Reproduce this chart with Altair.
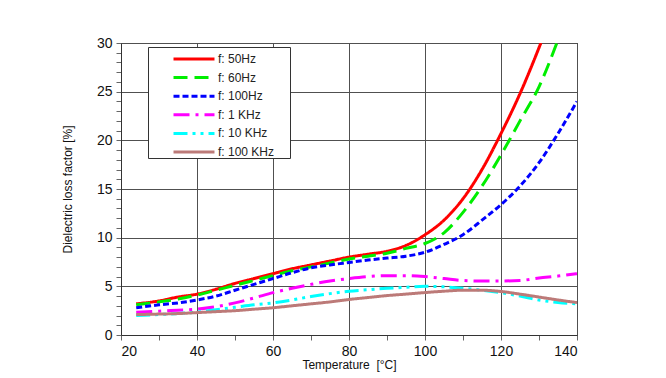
import altair as alt
import pandas as pd

series_names = ["f: 50Hz", "f: 60Hz", "f: 100Hz", "f: 1 KHz", "f: 10 KHz", "f: 100 KHz"]
colors = ["#FF0000", "#00EE00", "#0000FF", "#FF00FF", "#00FFFF", "#BC7A78"]
dashes = [[1, 0], [14, 7], [6, 3], [16, 6, 3, 6], [14, 5, 3, 5, 3, 5], [1, 0]]

temps_common = [24, 30, 35, 40, 45, 50, 55, 60, 65, 70, 75, 80, 85, 90, 95, 100,
                105, 110, 115, 120, 125, 130, 135, 140]

temps_50 = [24, 30, 35, 40, 45, 50, 55, 60, 65, 70, 75, 80, 85, 90, 95, 100,
            105, 110, 115, 120, 125, 130.5]
vals_50 = [3.2, 3.5, 3.9, 4.2, 4.7, 5.3, 5.8, 6.3, 6.8, 7.2, 7.6, 8.0, 8.3, 8.6, 9.2, 10.3,
           11.8, 14.0, 17.0, 20.7, 24.8, 30.0]

temps_60 = [24, 30, 35, 40, 45, 50, 55, 60, 65, 70, 75, 80, 85, 90, 95, 100,
            105, 110, 115, 120, 125, 130, 134.7]
vals_60 = [3.1, 3.4, 3.7, 4.1, 4.6, 5.1, 5.6, 6.1, 6.6, 7.0, 7.4, 7.8, 8.1, 8.4, 8.9, 9.4,
           10.5, 12.6, 15.3, 18.5, 22.0, 25.5, 30.0]

vals_100 = [2.8, 3.1, 3.3, 3.6, 4.0, 4.6, 5.2, 5.8, 6.4, 6.9, 7.2, 7.45, 7.7, 7.9, 8.1, 8.5,
            9.3, 10.3, 11.8, 13.4, 15.3, 17.7, 20.7, 24.0]
vals_1k = [2.35, 2.45, 2.55, 2.65, 2.9, 3.3, 3.8, 4.35, 4.8, 5.2, 5.55, 5.8, 6.0, 6.1, 6.1, 6.0,
           5.8, 5.6, 5.55, 5.55, 5.6, 5.85, 6.05, 6.3]
vals_10k = [2.0, 2.1, 2.2, 2.35, 2.6, 2.85, 3.1, 3.3, 3.6, 3.95, 4.25, 4.5, 4.65, 4.8, 4.9, 5.0,
            4.95, 4.8, 4.6, 4.35, 4.0, 3.6, 3.35, 3.2]
vals_100k = [2.1, 2.15, 2.2, 2.3, 2.4, 2.5, 2.65, 2.8, 3.0, 3.2, 3.4, 3.65, 3.85, 4.05, 4.2, 4.36,
             4.5, 4.6, 4.6, 4.47, 4.2, 3.9, 3.6, 3.33]

rows = []
for name, ts, vs in [
    (series_names[0], temps_50, vals_50),
    (series_names[1], temps_60, vals_60),
    (series_names[2], temps_common, vals_100),
    (series_names[3], temps_common, vals_1k),
    (series_names[4], temps_common, vals_10k),
    (series_names[5], temps_common, vals_100k),
]:
    for t, v in zip(ts, vs):
        rows.append({"series": name, "T": t, "v": v})
df = pd.DataFrame(rows)

font = "Liberation Sans"

legend_opts = dict(title="\u00a0", titleOrient="right", titlePadding=16, titleFontSize=12,
                   orient="none", legendX=27, legendY=4,
                   symbolType="M-2,0H2", symbolSize=420, symbolStrokeWidth=3,
                   symbolOffset=34, labelOffset=12,
                   labelFontSize=12, labelFont=font, rowPadding=0.6,
                   padding=0, strokeColor="#333", fillColor="white",
                   labelColor="#222")

chart = alt.Chart(df).mark_line(clip=True, strokeWidth=3, interpolate="monotone").encode(
    x=alt.X("T:Q", scale=alt.Scale(domain=[20, 140], nice=False),
            axis=alt.Axis(values=list(range(20, 141, 10)),
                          labelExpr="datum.value % 20 === 0 ? datum.label : ''",
                          gridOpacity={"condition": {"test": "datum.value % 20 === 0", "value": 1}, "value": 0},
                          title="Temperature\u00a0 [°C]", titlePadding=1)),
    y=alt.Y("v:Q", scale=alt.Scale(domain=[0, 30], nice=False),
            axis=alt.Axis(values=list(range(0, 31)),
                          labelExpr="datum.value % 5 === 0 ? datum.label : ''",
                          gridOpacity={"condition": {"test": "datum.value % 5 === 0", "value": 1}, "value": 0},
                          title="Dielectric loss factor [%]", titlePadding=22)),
    color=alt.Color("series:N", scale=alt.Scale(domain=series_names, range=colors),
                    legend=alt.Legend(**legend_opts)),
    strokeDash=alt.StrokeDash("series:N", scale=alt.Scale(domain=series_names, range=dashes),
                              legend=alt.Legend(**legend_opts)),
).properties(
    width=456, height=292,
    autosize="none",
    padding={"left": 113, "top": 35, "right": 80, "bottom": 43},
    background="white",
).configure_view(stroke="black", strokeWidth=1).configure_axis(
    gridColor="#505050", gridWidth=1, domainColor="#333", tickColor="#666", tickSize=5,
    labelFont=font, labelFontSize=14, labelColor="#111", labelPadding=4,
    titleFont=font, titleFontSize=12, titleFontWeight="normal", titleColor="#111",
)

chart.save("out.html", embed_options={"renderer": "svg", "actions": False})
